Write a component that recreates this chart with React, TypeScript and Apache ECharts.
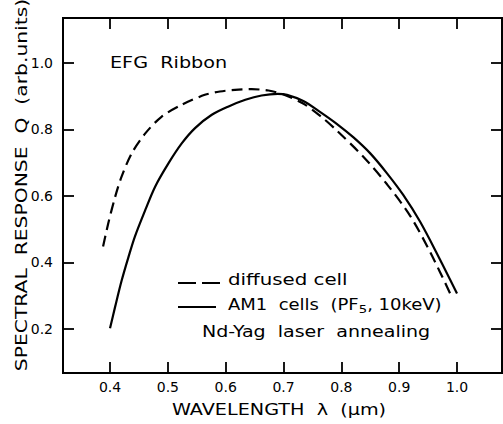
import React, { useEffect, useRef } from "react";
import * as echarts from "echarts";

// Wavelength (µm) and spectral response for the diffused reference cell (dashed)
const diffusedWavelength = [0.388, 0.397, 0.409, 0.42, 0.4375, 0.461, 0.489, 0.524, 0.564, 0.59, 0.616, 0.645, 0.674, 0.7, 0.734, 0.764, 0.792, 0.838, 0.879, 0.919, 0.954, 0.99];
const diffusedResponse = [0.448, 0.518, 0.598, 0.658, 0.728, 0.788, 0.838, 0.874, 0.904, 0.914, 0.919, 0.921, 0.917, 0.905, 0.878, 0.84, 0.797, 0.718, 0.635, 0.54, 0.43, 0.3];

// AM1 cells (PF5, 10 keV), Nd-Yag laser annealed (solid)
const am1Wavelength = [0.4, 0.409, 0.42, 0.432, 0.443, 0.461, 0.478, 0.501, 0.524, 0.547, 0.576, 0.605, 0.634, 0.662, 0.69, 0.706, 0.735, 0.763, 0.792, 0.821, 0.85, 0.879, 0.907, 0.936, 0.965, 1.0];
const am1Response = [0.202, 0.268, 0.345, 0.417, 0.478, 0.558, 0.628, 0.698, 0.758, 0.804, 0.844, 0.869, 0.889, 0.902, 0.907, 0.904, 0.885, 0.853, 0.817, 0.776, 0.728, 0.668, 0.603, 0.523, 0.428, 0.307];

const xTicks = [0.4, 0.5, 0.6, 0.7, 0.8, 0.9, 1.0];
const yTicks = [0.2, 0.4, 0.6, 0.8, 1.0];

const xRange = [0.3187, 1.0778];
const yRange = [0.0677, 1.135];

const seriesNames = ["diffused cell", "AM1  cells  (PF5, 10keV)"];
const annotationText = "EFG  Ribbon";
const noteText = "Nd-Yag  laser  annealing";
const xTitle = "WAVELENGTH  λ  (μm)";
const yTitle = "SPECTRAL  RESPONSE  Q  (arb.units)";

const FONT = "DejaVu Sans";

export default function App() {
  const ref = useRef<HTMLDivElement>(null);

  useEffect(() => {
    document.body.style.margin = "0";
    if (!ref.current) return;
    const chart = echarts.init(ref.current, undefined, { renderer: "svg" });

    const tickStyle = { inside: true, length: 11, lineStyle: { color: "#000", width: 1.8 } };
    const labelStyle = { color: "#000", fontSize: 14, fontFamily: FONT };

    const mkX = (position: "bottom" | "top", showLabel: boolean) => ({
      type: "value",
      position,
      min: xRange[0],
      max: xRange[1],
      axisLine: { show: false },
      splitLine: { show: false },
      axisTick: { ...tickStyle, customValues: xTicks },
      axisLabel: {
        show: showLabel,
        ...labelStyle,
        margin: 7,
        customValues: xTicks,
        formatter: (v: number) => v.toFixed(1),
      },
    });
    const mkY = (position: "left" | "right", showLabel: boolean) => ({
      type: "value",
      position,
      min: yRange[0],
      max: yRange[1],
      axisLine: { show: false },
      splitLine: { show: false },
      axisTick: { ...tickStyle, customValues: yTicks },
      axisLabel: {
        show: showLabel,
        ...labelStyle,
        margin: 10,
        customValues: yTicks,
        formatter: (v: number) => v.toFixed(1),
      },
    });

    chart.setOption({
      animation: false,
      backgroundColor: "#fff",
      grid: {
        left: 63,
        right: 1,
        top: 18,
        bottom: 51,
        show: true,
        borderColor: "#000",
        borderWidth: 2,
      },
      xAxis: [mkX("bottom", true), mkX("top", false)],
      yAxis: [mkY("left", true), mkY("right", false)],
      series: [
        {
          type: "line",
          name: seriesNames[0],
          data: diffusedWavelength.map((x, i) => [x, diffusedResponse[i]]),
          symbol: "none",
          smooth: 0.3,
          lineStyle: { color: "#000", width: 2.2, type: [11, 6] },
          xAxisIndex: 0,
          yAxisIndex: 0,
        },
        {
          type: "line",
          name: seriesNames[1],
          data: am1Wavelength.map((x, i) => [x, am1Response[i]]),
          symbol: "none",
          smooth: 0.3,
          lineStyle: { color: "#000", width: 2.2, type: "solid" },
          xAxisIndex: 0,
          yAxisIndex: 0,
        },
      ],
      graphic: [
        {
          type: "text",
          x: 21,
          y: 185,
          rotation: Math.PI / 2,
          scaleX: 1.27,
          style: {
            text: yTitle,
            fontSize: 16,
            fontFamily: FONT,
            fill: "#000",
            textAlign: "center",
            textVerticalAlign: "middle",
          },
        },
        {
          type: "text",
          x: 279,
          y: 410,
          scaleX: 1.2,
          style: {
            text: xTitle,
            fontSize: 16,
            fontFamily: FONT,
            fill: "#000",
            textAlign: "center",
            textVerticalAlign: "middle",
          },
        },
        {
          type: "text",
          x: 110,
          y: 63,
          scaleX: 1.28,
          style: {
            text: annotationText,
            fontSize: 15,
            fontFamily: FONT,
            fill: "#000",
            textAlign: "left",
            textVerticalAlign: "middle",
          },
        },
        {
          type: "line",
          shape: { x1: 178, y1: 283, x2: 220, y2: 283 },
          style: { stroke: "#000", lineWidth: 2, lineDash: [18, 6] },
        },
        {
          type: "text",
          x: 228,
          y: 280,
          scaleX: 1.32,
          style: {
            text: seriesNames[0],
            fontSize: 15,
            fontFamily: FONT,
            fill: "#000",
            textAlign: "left",
            textVerticalAlign: "middle",
          },
        },
        {
          type: "line",
          shape: { x1: 178, y1: 307, x2: 216, y2: 307 },
          style: { stroke: "#000", lineWidth: 2 },
        },
        {
          type: "text",
          x: 228,
          y: 305,
          scaleX: 1.2,
          style: {
            text: "{a|AM1  cells  (PF}{s|5}{a|, 10keV)}",
            fontSize: 15,
            fontFamily: FONT,
            fill: "#000",
            textAlign: "left",
            textVerticalAlign: "middle",
            rich: {
              a: { fontSize: 15, fontFamily: FONT, fill: "#000" },
              s: { fontSize: 11, fontFamily: FONT, fill: "#000", padding: [9, 0, 0, 0] },
            },
          },
        },
        {
          type: "text",
          x: 202,
          y: 332,
          scaleX: 1.27,
          style: {
            text: noteText,
            fontSize: 15,
            fontFamily: FONT,
            fill: "#000",
            textAlign: "left",
            textVerticalAlign: "middle",
          },
        },
      ],
    });

    return () => chart.dispose();
  }, []);

  return <div ref={ref} style={{ width: 503, height: 424 }} />;
}
